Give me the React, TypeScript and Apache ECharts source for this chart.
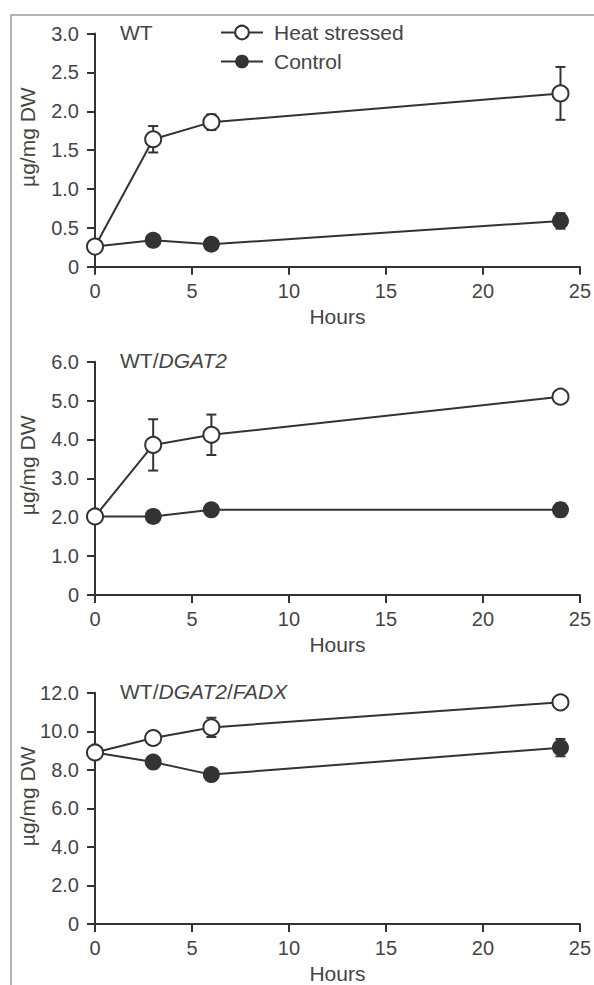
import React, { useEffect, useRef } from "react";
import * as echarts from "echarts";

const hours = [0, 3, 6, 24];
const xTicks = [0, 5, 10, 15, 20, 25];

const panelTitles = ["WT", "WT/DGAT2", "WT/DGAT2/FADX"];
const yMax = [3, 6, 12];
const yStep = [0.5, 1, 2];

const wtHeat = [0.26, 1.64, 1.86, 2.23];
const wtHeatErr = [0, 0.17, 0.1, 0.34];
const wtCtrl = [0.26, 0.34, 0.29, 0.59];
const wtCtrlErr = [0, 0.03, 0.03, 0.1];

const dgatHeat = [2.02, 3.86, 4.12, 5.1];
const dgatHeatErr = [0, 0.66, 0.52, 0.15];
const dgatCtrl = [2.02, 2.02, 2.19, 2.19];
const dgatCtrlErr = [0, 0.05, 0.05, 0.17];

const fadxHeat = [8.9, 9.65, 10.2, 11.5];
const fadxHeatErr = [0, 0.35, 0.5, 0.15];
const fadxCtrl = [8.9, 8.4, 7.75, 9.15];
const fadxCtrlErr = [0, 0.15, 0.15, 0.45];

const heatSets = [wtHeat, dgatHeat, fadxHeat];
const heatErrs = [wtHeatErr, dgatHeatErr, fadxHeatErr];
const ctrlSets = [wtCtrl, dgatCtrl, fadxCtrl];
const ctrlErrs = [wtCtrlErr, dgatCtrlErr, fadxCtrlErr];

const INK = "#333333";
const TXT = "#454545";
const FONT = "'Liberation Sans', Arial, sans-serif";

const gridTops = [33.5, 361.7, 692.7];
const gridH = 233.3;

export default function App() {
  const ref = useRef<HTMLDivElement>(null);
  useEffect(() => {
    if (!ref.current) return;
    const chart = echarts.init(ref.current, undefined, { renderer: "svg" });

    const grids = gridTops.map((t) => ({ left: 95, right: 12.3, top: t, height: gridH }));
    const xAxes = gridTops.map((_, i) => ({
      type: "value",
      gridIndex: i,
      min: xTicks[0],
      max: xTicks[xTicks.length - 1],
      interval: 5,
      name: "Hours",
      nameLocation: "middle",
      nameGap: 39,
      nameTextStyle: { color: TXT, fontSize: 21, fontFamily: FONT },
      splitLine: { show: false },
      axisLine: { onZero: false, lineStyle: { color: INK, width: 2 } },
      axisTick: { length: 8, lineStyle: { color: INK, width: 2 } },
      axisLabel: { color: TXT, fontSize: 20, fontFamily: FONT, margin: 14 },
    }));
    const yAxes = gridTops.map((_, i) => ({
      type: "value",
      gridIndex: i,
      min: 0,
      max: yMax[i],
      interval: yStep[i],
      splitLine: { show: false },
      axisLine: { show: true, onZero: false, lineStyle: { color: INK, width: 2 } },
      axisTick: { show: true, length: 8, lineStyle: { color: INK, width: 2 } },
      axisLabel: {
        color: TXT,
        fontSize: 20,
        fontFamily: FONT,
        margin: 16,
        formatter: (v: number) => (v === 0 ? "0" : v.toFixed(1)),
      },
    }));

    const errRender = (params: any, api: any) => {
      const x = api.value(0);
      const y = api.value(1);
      const e = api.value(2);
      const top = api.coord([x, y + e]);
      const bot = api.coord([x, y - e]);
      const w = 5;
      const st = { stroke: INK, lineWidth: 2 };
      return {
        type: "group",
        children: [
          { type: "line", shape: { x1: top[0], y1: top[1], x2: bot[0], y2: bot[1] }, style: st },
          { type: "line", shape: { x1: top[0] - w, y1: top[1], x2: top[0] + w, y2: top[1] }, style: st },
          { type: "line", shape: { x1: bot[0] - w, y1: bot[1], x2: bot[0] + w, y2: bot[1] }, style: st },
        ],
      };
    };

    const series: any[] = [];
    for (let i = 0; i < 3; i++) {
      const mkErr = (vals: number[], errs: number[]) =>
        hours.map((h, k) => [h, vals[k], errs[k]]).filter((d) => d[2] > 0);
      series.push({
        type: "custom",
        xAxisIndex: i,
        yAxisIndex: i,
        renderItem: errRender,
        data: mkErr(heatSets[i], heatErrs[i]),
        encode: { x: 0, y: 1 },
        z: 1,
        silent: true,
      });
      series.push({
        type: "custom",
        xAxisIndex: i,
        yAxisIndex: i,
        renderItem: errRender,
        data: mkErr(ctrlSets[i], ctrlErrs[i]),
        encode: { x: 0, y: 1 },
        z: 1,
        silent: true,
      });
      series.push({
        name: "Control",
        type: "line",
        xAxisIndex: i,
        yAxisIndex: i,
        data: hours.map((h, k) => [h, ctrlSets[i][k]]),
        symbol: "circle",
        symbolSize: 17,
        lineStyle: { color: INK, width: 2 },
        itemStyle: { color: INK, borderColor: INK, borderWidth: 0 },
        z: 3,
      });
      series.push({
        name: "Heat stressed",
        type: "line",
        xAxisIndex: i,
        yAxisIndex: i,
        data: hours.map((h, k) => [h, heatSets[i][k]]),
        symbol: "circle",
        symbolSize: 16,
        lineStyle: { color: INK, width: 2 },
        itemStyle: { color: "#ffffff", borderColor: INK, borderWidth: 2 },
        z: 4,
      });
    }

    const titleGraphics = panelTitles.map((t, i) => {
      const parts = t.split("/");
      const richText = parts
        .map((p, k) => (k === 0 ? `{n|${p}}` : `{n|/}{it|${p}}`))
        .join("");
      return {
        type: "text",
        left: 120,
        top: gridTops[i] - 12,
        style: {
          text: richText,
          fill: TXT,
          font: `21px ${FONT}`,
          rich: {
            n: { fontSize: 21, fontFamily: FONT, fill: TXT, color: TXT },
            it: { fontSize: 21, fontFamily: FONT, fontStyle: "italic", fill: TXT, color: TXT },
          },
        },
      };
    });

    const yNameGraphics = gridTops.map((t) => ({
      type: "text",
      x: 27,
      y: t + gridH / 2 - 13,
      rotation: Math.PI / 2,
      style: {
        text: "µg/mg DW",
        fill: TXT,
        font: `21px ${FONT}`,
        textAlign: "center",
        textVerticalAlign: "middle",
      },
    }));

    chart.setOption({
      animation: false,
      backgroundColor: "#ffffff",
      grid: grids,
      xAxis: xAxes,
      yAxis: yAxes,
      legend: {
        data: ["Heat stressed", "Control"],
        orient: "vertical",
        left: 220,
        top: 22,
        padding: 0,
        itemWidth: 42,
        itemHeight: 17,
        itemGap: 8,
        textStyle: { color: TXT, fontSize: 21, fontFamily: FONT, padding: [0, 0, 0, 6] },
        selectedMode: false,
      },
      graphic: [
        {
          type: "polyline",
          shape: { points: [[11, 985], [11, 15], [594, 15]] },
          style: { stroke: "#9a9a9a", lineWidth: 1.5, fill: "none" },
          silent: true,
        },
        ...titleGraphics,
        ...yNameGraphics,
      ],
      series,
    });

    return () => chart.dispose();
  }, []);

  return (
    <div
      ref={ref}
      style={{ position: "fixed", left: 0, top: 0, width: 594, height: 985, background: "#fff" }}
    />
  );
}
